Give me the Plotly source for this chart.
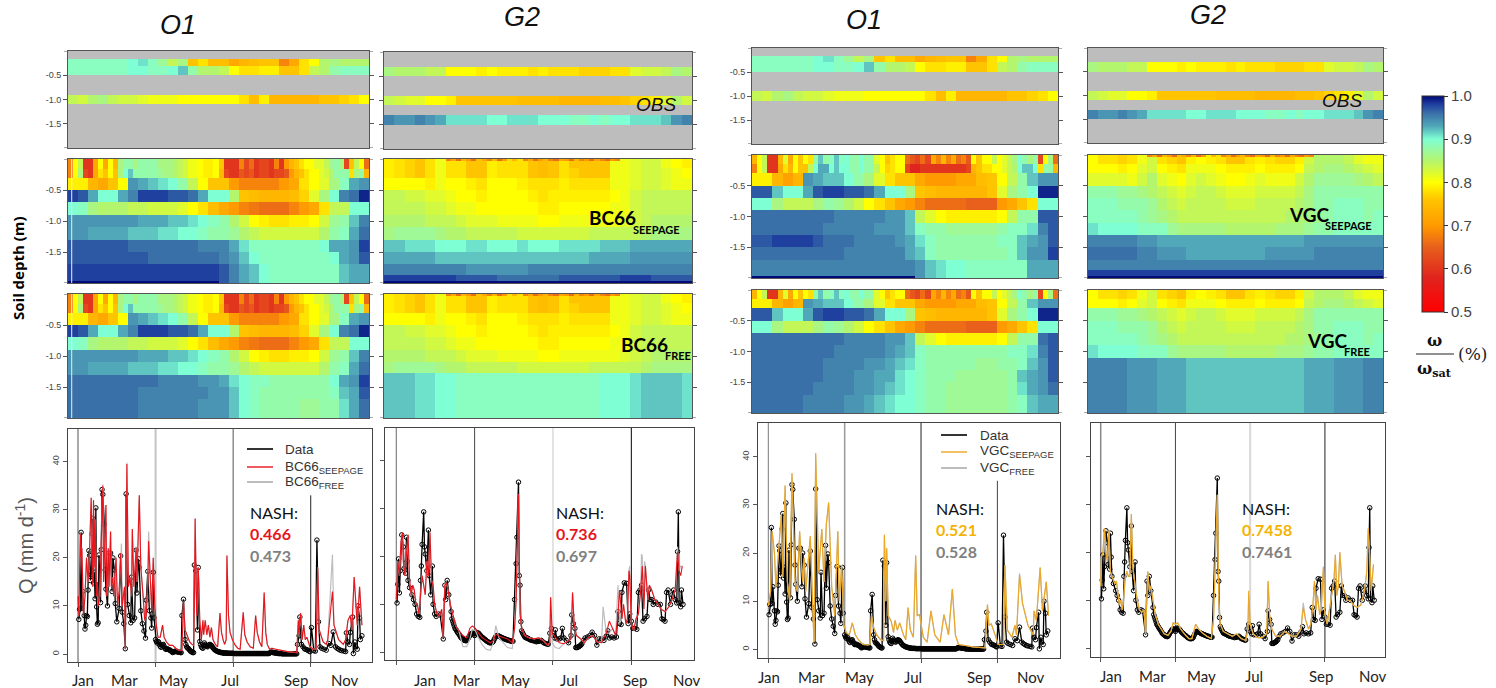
import numpy as np
import plotly.graph_objects as go

W, H = 1496, 688

# ---------- soil saturation tables (percent of saturation), 30 time columns over the year ----------
O1_OBS_R1 = [89,89,89,89,89,89,90,91,89,87,84,86,76,78,75,75,72,74,75,76,76,68,72,78,80,85,86,85,85,85]
O1_OBS_R2 = [89,89,89,89,89,89,90,90,89,89,90,92,88,85,85,84,80,78,78,79,79,76,76,78,84,85,88,89,89,89]
O1_OBS_R3 = [84,83,85,86,84,83,83,82,81,81,81,80,80,80,80,80,80,78,75,79,74,74,74,74,74,76,76,77,78,80]
G2_OBS_R1 = [86,85,85,85,84,84,80,80,80,79,80,79,79,79,78,79,78,78,78,77,77,77,78,78,82,83,83,84,86,85]
G2_OBS_R2 = [84,83,82,82,80,80,79,76,76,76,76,76,76,75,75,75,75,74,74,74,74,75,75,76,77,78,79,82,85,83]
G2_OBS_R3 = [95,94,94,95,94,93,91,91,91,91,90,90,91,91,91,90,90,90,89,89,90,89,90,90,91,91,91,92,94,95]

# finer 60-column top layers (0 to -0.15 and -0.15 to -0.3 m)
O1_BC_FINE_A = [68,80,84,60,60,72,80,72,80,74,86,88,88,86,88,88,88,88,86,86,86,85,84,83,81,81,80,79,79,80,
                76,60,60,60,68,62,66,60,62,62,60,68,60,70,74,76,78,80,80,82,82,84,87,88,86,62,76,84,80,66]
O1_BC_FINE_B = [68,80,86,62,60,72,78,76,80,76,86,90,92,88,88,88,88,88,87,86,86,85,84,83,81,81,80,79,79,80,
                74,62,60,60,64,62,64,60,62,62,60,62,62,64,70,74,76,78,80,80,82,83,85,88,88,88,78,86,88,74]
O1_VGC_FINE_A = [74,80,84,60,60,74,82,72,80,76,80,78,88,92,88,89,92,89,90,88,88,90,88,88,82,80,76,78,80,80,
                 66,64,62,66,62,72,68,74,68,72,66,68,64,80,76,80,80,84,80,82,84,86,90,88,86,88,62,80,86,66]
O1_VGC_FINE_B = [68,80,84,60,60,72,78,74,80,76,76,84,90,93,93,90,92,90,90,88,88,90,88,88,84,80,77,78,80,80,
                 62,58,58,60,60,60,60,60,60,60,60,60,62,74,76,78,78,80,80,82,84,85,90,92,92,90,78,88,88,74]
G2_FRINGE = [None,None,None,None,None,None,None,None,None,None,None,None,68,72,66,74,70,66,None,72,68,74,66,70,None,74,None,68,72,66,70,74,68,66,72,70,66,74,68,70,66,72,68,66,70,68,
             None,None,None,None,None,None,None,None,None,None,None,None,None,None]

O1_BC_TOP = [
 [70,60,66,72,78,88,86,89,89,88,86,82,80,78,74,63,60,58,60,60,60,68,74,76,78,82,85,72,78,66],
 [72,60,68,72,78,90,90,89,89,88,86,83,80,78,74,62,60,60,60,60,60,70,74,76,78,82,86,78,88,74],
 [79,79,74,72,76,80,94,93,92,91,90,88,84,80,76,76,70,68,68,68,68,70,72,78,80,82,86,89,93,94],
 [98,97,93,90,90,93,95,98,98,98,97,97,96,93,90,90,85,76,75,74,74,74,75,77,82,86,90,95,96,99],
 [90,89,86,85,85,85,84,84,83,83,83,82,80,78,75,72,70,68,67,66,66,66,68,70,72,78,84,84,90,90],
 [94,94,94,94,94,94,94,93,93,93,92,92,91,90,89,88,85,83,80,79,78,78,79,79,80,83,87,88,92,95],
 [94,94,93,93,93,93,92,92,92,91,91,90,90,89,88,88,87,85,84,83,83,83,83,83,83,85,88,89,93,96],
]
O1_BC_SEEP_DEEP = [
 [97,97,97,97,97,97,96,96,96,96,96,96,96,95,95,95,93,91,89,89,89,89,89,89,89,90,93,93,94,98],
 [97,97,97,97,97,97,97,97,96,96,96,96,96,96,96,95,94,92,90,89,89,89,89,89,89,89,90,93,94,97],
 [98,98,98,98,98,98,98,98,98,98,98,98,98,98,98,97,95,93,92,90,89,89,89,89,89,89,89,92,93,93],
 [100,100,100,100,100,100,100,100,100,100,100,100,100,100,100,97,95,93,92,90,89,89,89,89,89,89,89,92,93,93],
]
O1_BC_FREE_DEEP = [
 [96,96,96,96,96,96,96,96,96,95,95,95,95,94,94,93,91,90,89,89,88,88,88,88,88,88,90,93,94,98],
 [96,96,96,96,96,96,96,95,95,95,95,95,95,95,94,94,92,90,89,88,88,88,88,88,88,88,89,92,93,97],
 [96,96,96,96,96,96,96,95,95,95,95,95,95,94,94,94,92,90,89,88,88,88,88,87,87,88,88,91,93,96],
]
O1_VGC_TOP = [
 [70,60,74,76,74,84,90,90,89,88,86,84,80,78,70,62,56,58,60,60,60,60,74,76,78,82,86,72,80,68],
 [72,62,74,74,76,92,92,90,90,88,87,84,80,76,70,62,60,60,58,60,60,62,74,76,78,82,86,88,88,74],
 [79,79,74,71,74,94,93,92,92,90,88,86,82,78,76,76,72,70,70,70,72,72,75,76,80,84,88,92,94,94],
 [97,97,92,90,90,93,97,98,98,97,97,96,93,90,90,86,76,75,74,74,74,74,74,76,82,86,88,90,99,99],
 [90,90,86,84,84,84,86,88,87,85,83,80,78,76,72,70,68,66,66,66,66,65,65,65,70,72,76,78,90,90],
]
O1_VGC_SEEP_DEEP = [
 [96,96,96,96,96,96,96,96,95,95,95,95,95,94,94,92,84,82,80,79,79,79,79,79,80,84,88,88,97,97],
 [96,96,96,96,96,96,96,95,95,95,95,95,94,94,94,92,89,88,88,87,87,87,87,87,88,89,89,91,95,97],
 [97,97,98,98,98,98,97,96,96,96,95,95,95,95,94,93,91,89,88,88,88,88,88,88,89,89,92,93,94,97],
 [96,96,96,96,96,96,96,96,96,95,95,95,95,95,95,93,92,89,88,88,88,88,88,88,88,89,92,94,94,98],
 [95,95,95,95,95,95,95,95,95,95,95,95,95,95,95,95,94,92,91,90,90,89,89,89,89,89,89,93,93,93],
 [100,100,100,100,100,100,100,100,100,100,100,100,100,100,100,100,94,92,91,90,90,89,89,89,89,89,89,93,93,93],
]
O1_VGC_FREE_DEEP = [
 [96,96,96,96,96,96,96,96,96,95,95,95,95,94,94,92,84,82,80,79,79,79,79,79,80,84,88,88,96,97],
 [96,96,96,96,96,96,96,96,95,95,95,95,95,94,93,92,89,88,88,88,88,88,88,88,88,89,89,91,95,97],
 [96,96,96,96,96,96,96,95,95,95,95,94,94,93,92,91,89,88,88,88,88,88,87,87,88,88,89,92,94,97],
 [96,96,96,96,96,96,96,95,95,95,94,94,93,93,91,90,89,88,88,88,87,87,87,87,87,88,92,93,94,97],
 [96,96,96,96,96,96,95,95,95,95,94,94,93,92,91,90,89,88,88,87,87,87,87,87,87,88,91,93,94,96],
 [96,96,96,96,96,95,95,95,95,94,94,93,92,91,90,90,89,88,88,87,87,87,87,87,87,88,89,92,93,93],
]
G2_BC_TOP = [
 [79,78,77,76,78,81,78,78,76,76,79,78,78,78,76,75,76,78,76,76,76,76,81,81,82,83,83,81,80,79],
 [79,78,77,76,78,81,78,78,76,76,79,78,78,78,76,75,76,78,77,76,76,76,81,81,82,83,83,82,81,80],
 [80,80,80,80,79,81,80,80,79,78,80,80,80,79,78,78,78,79,78,78,78,78,81,81,82,83,83,82,81,81],
 [84,84,83,83,82,82,81,80,80,79,80,80,80,80,79,78,79,79,79,79,79,79,80,81,83,84,84,84,84,84],
 [84,84,84,84,83,83,82,81,81,80,80,80,80,80,80,79,79,80,80,80,80,80,81,81,83,84,84,84,84,84],
 [85,85,85,85,84,84,84,83,82,82,82,81,81,81,81,80,80,81,81,81,81,81,81,82,83,84,85,85,85,85],
 [86,87,87,87,87,86,85,85,84,84,84,84,84,83,83,83,83,83,83,83,84,84,84,84,84,85,86,86,86,86],
]
G2_BC_SEEP_DEEP = [
 [92,92,91,91,91,90,90,90,91,91,90,90,90,91,90,90,90,91,91,91,91,92,92,92,93,93,93,93,93,93],
 [93,93,93,93,93,92,92,92,92,92,92,92,92,92,92,92,92,92,92,92,93,93,93,93,94,94,94,94,94,94],
 [95,95,95,95,95,95,95,95,94,94,94,94,94,94,95,95,95,95,95,95,95,95,95,95,95,95,95,95,95,95],
 [98,98,98,98,98,98,98,97,97,97,97,96,96,96,96,96,96,97,97,97,97,97,97,98,98,98,97,97,97,97],
 [100,100,100,100,100,100,100,100,100,100,100,100,100,100,100,100,100,100,100,100,100,100,100,100,100,100,100,100,100,100],
]
G2_BC_FREE_DEEP = [
 [92,92,92,91,91,90,90,89,89,89,89,89,89,89,89,89,89,89,89,89,89,90,90,90,91,92,92,92,92,91],
]
G2_VGC_TOP = [
 [80,78,78,77,78,81,83,78,77,76,79,80,79,78,76,76,78,79,78,77,77,79,83,85,85,85,84,82,81,81],
 [80,80,80,79,80,82,83,80,79,78,81,81,81,80,79,79,79,80,79,79,79,80,84,85,86,86,85,84,83,82],
 [82,82,82,82,81,83,85,82,81,80,82,83,82,81,80,80,81,82,81,81,81,83,85,87,87,87,87,86,85,84],
 [88,88,88,87,87,86,85,84,83,82,83,84,84,83,82,82,82,83,83,83,83,84,86,88,88,88,88,88,88,88],
 [89,89,89,88,88,88,87,85,84,83,84,84,84,84,83,83,83,84,84,84,84,85,86,88,88,89,89,89,88,88],
 [89,89,89,89,89,88,87,86,85,84,84,84,84,84,84,84,84,84,84,84,85,85,86,87,88,89,89,89,88,89],
 [91,90,90,90,90,89,89,89,87,86,86,86,86,86,85,85,85,85,85,86,86,86,87,88,88,89,89,89,89,89],
]
G2_VGC_SEEP_DEEP = [
 [95,95,95,95,95,94,94,93,93,93,93,93,93,93,93,93,93,93,93,93,93,93,94,94,94,94,94,94,94,94],
 [96,96,96,96,96,95,95,94,94,94,93,93,93,93,93,93,93,93,94,94,94,94,94,95,95,95,95,95,95,95],
 [95,95,95,95,95,95,95,95,95,95,95,95,95,95,95,95,95,95,95,95,95,95,95,95,95,95,95,95,95,95],
 [98,98,98,98,98,98,98,98,98,98,98,98,98,98,98,98,98,98,98,98,98,98,98,98,98,98,98,98,98,98],
 [100,100,100,100,100,100,100,100,100,100,100,100,100,100,100,100,100,100,100,100,100,100,100,100,100,100,100,100,100,100],
]
G2_VGC_FREE_DEEP = [
 [95,95,95,95,94,94,94,93,93,93,92,92,92,92,92,92,92,92,92,92,92,92,93,93,93,94,94,94,95,95],
]

# ---------- discharge series: (day of year, Q in mm/d) ----------
O1_DATA = [(1,7.2),(2,9.3),(3,9.5),(4,25.3),(5,9.5),(6,13),(8,8),(9,5.2),(10,6),(11,8),(12,7.8),(13,13.3),(14,21.5),(15,20.5),(16,15.3),(17,16.5),(18,25),(19,28.2),(20,14.8),(21,17),(22,11.5),(23,30.4),(24,9.8),(25,6.2),(26,6.5),(27,20.6),(29,10.7),(30,21.7),(31,34.2),(32,33.2),(34,27),(35,17.5),(36,13.5),(38,10),(40,21),(42,21),(44,13),(45,20),(47,17.5),(48,10.5),(50,6.7),(53,9.5),(55,20.4),(57,8.7),(59,6.3),(61,1.1),(62,33.3),(64,10.3),(66,8),(68,6.5),(69,16),(71,7),(73,7.5),(75,21.6),(76,12.7),(78,19.8),(79,18),(81,9),(83,6.3),(85,4.8),(87,3.3),(88,11.2),(90,17.2),(92,9),(94,7.5),(95,5.4),(97,17),(98,7.5),(100,3),(101,2.6),(102,2.3),(103,2.6),(104,2.5),(105,2),(106,1.6),(107,1.4),(108,1.8),(109,1.9),(110,2),(111,1.6),(112,1.2),(113,1),(114,1),(115,1.1),(116,1),(117,.9),(118,.8),(119,.8),(120,.6),(121,.5),(122,.3),(123,.4),(124,.5),(125,.6),(126,.5),(127,.5),(128,.5),(129,.4),(130,.4),(131,.4),(132,.3),(133,.3),(134,8),(136,11.4),(138,3),(139,2),(140,1.5),(141,1.3),(142,1.2),(143,1),(144,.8),(145,.6),(146,.5),(147,.4),(148,.3),(149,.3),(150,18.5),(152,17.3),(154,5),(155,18),(157,2.6),(158,2),(159,1.5),(160,1.3),(161,1.2),(162,1.8),(163,2.3),(164,2),(165,1.8),(166,1.6),(167,1.5),(168,1.8),(169,1.9),(170,2),(171,1.9),(172,1.8),(173,1.5),(174,1.3),(175,1.1),(176,.9),(177,.8),(178,.7),(179,.6),(180,.5),(181,.5),(182,.4),(183,.4),(184,.3),(185,.3),(186,.3),(187,.2),(188,.2),(189,.2),(190,.2),(191,.2),(192,.2),(193,.15),(194,.15),(195,.15),(196,.15),(197,.15),(198,.15),(199,.15),(200,.15),(201,.1),(202,.1),(203,.1),(204,.1),(205,.1),(206,.1),(207,.1),(208,.1),(209,.1),(210,.1),(211,.1),(212,.1),(213,.1),(214,.1),(215,.1),(216,.1),(217,.1),(218,.1),(219,.1),(220,.1),(221,.1),(222,.1),(223,.1),(224,.1),(225,.1),(226,.1),(227,.1),(228,.1),(229,.1),(230,.1),(231,.1),(232,.1),(233,.1),(234,.1),(235,.1),(236,.1),(237,.1),(238,.1),(239,.1),(240,.1),(241,.1),(242,.1),(243,.1),(244,.1),(245,.1),(246,.1),(247,.2),(248,.3),(249,.4),(250,.4),(251,.3),(252,.3),(253,.3),(254,.2),(255,.2),(256,.2),(257,.2),(258,.1),(259,.1),(260,.1),(261,.1),(262,.1),(263,.05),(264,.05),(265,.05),(266,.05),(267,.05),(268,.05),(269,.05),(270,.05),(271,.05),(272,.05),(273,.05),(274,.05),(275,.05),(276,.05),(277,.05),(278,.05),(279,.05),(280,.05),(281,.05),(282,.05),(283,2),(285,3.8),(286,7.7),(288,2),(290,1.5),(292,1.1),(293,1),(295,.9),(296,.8),(298,.6),(299,.5),(301,5.5),(304,.7),(306,.6),(308,23.7),(310,6.7),(312,1.5),(314,1.2),(317,1),(320,.8),(323,2.2),(326,1.8),(329,4.6),(332,1.5),(334,1.2),(336,1),(338,.8),(340,.7),(343,.6),(345,.5),(346,4.4),(348,2.5),(350,2),(351,4.5),(354,7.7),(355,.1),(357,2.5),(358,1.5),(360,1),(361,10),(363,7.5),(364,3),(366,3.8)]

O1_BC_SEEP = [(0,12),(1,8),(3,25),(4,20),(5,22),(7,8),(9,12),(11,20),(13,15),(15,22),(17,32.5),(18,18),(19,14),(20,32),(21,18),(22,28),(24,12),(25,15),(26,10),(28,12),(32,35),(33,15),(36,31),(37,12),(39,22),(40,14),(42,25.5),(43,14),(45,16),(46,12),(48,18),(49,20),(51,10),(53,13),(55,21),(57,10),(60,14),(61,1),(63,39.5),(65,14),(67,16),(69,12),(70,26),(72,14),(75,22),(76,15),(79,33),(81,18),(84,12),(86,7),(88,8),(90,15),(91,23.5),(94,14),(95,9),(97,20),(99,10),(101,6),(103,3.5),(106,3.5),(109,6),(111,3.5),(114,2.5),(118,1.8),(122,1.8),(126,1.2),(130,.8),(134,.7),(135,8),(136,11),(138,5),(141,3.5),(144,2.5),(147,2),(149,1.8),(150,10),(151,28.2),(153,8),(155,18),(157,7),(159,3),(161,7),(162,4),(164,7),(166,4),(168,6),(170,3.5),(172,5.5),(174,3),(177,2),(180,1.5),(183,8.5),(185,4.5),(187,3),(189,2),(191,3),(192,20.5),(194,8),(196,4.5),(199,3),(202,2),(206,1.2),(209,1),(213,8.7),(215,4),(218,2.5),(222,1.5),(226,1.2),(229,8),(231,4.5),(234,2.5),(237,1.5),(240,12.8),(242,4.5),(244,2),(247,1),(250,1.2),(255,1),(262,.7),(270,.5),(282,.3),(284,7),(285,4),(287,8.5),(289,3),(291,6),(293,3),(295,3.5),(299,1.5),(303,1),(307,1),(309,18),(311,5),(316,2.5),(320,2),(322,3),(328,13),(330,6),(336,3),(342,2),(345,3),(348,7),(351,8),(353,5),(356,16),(358,10),(360,6),(363,14),(366,6)]
O1_BC_FREE_CHANGES = {32:35.3,56:23,55:19,63:39.8,91:25.5,328:20.7}

O1_VGC_SEEP = [(0,9),(3,12),(5,24.5),(8,20),(10,13),(14,22),(17,28),(19,15),(22,34),(25,14),(28,10),(31,36.5),(35,14),(38,12),(41,24.5),(45,14),(47,19),(49,12),(55,23.5),(59,5),(60,1.5),(62,40.7),(66,16),(70,25),(73,14),(76,26),(79,30.5),(83,13),(87,7),(91,24.5),(93,10),(96,17.5),(99,5),(102,3.5),(106,3),(110,5.5),(114,3),(118,2),(124,1),(130,.9),(133,1),(135,7),(138,4.5),(142,3),(147,2),(151,1.8),(152,23.8),(154,10),(155,21),(157,7),(161,5.8),(164,3.5),(166,6),(169,4),(172,5.5),(177,3),(180,2),(183,8.7),(186,4),(190,2.5),(193,19.5),(195,7),(198,7.2),(203,2.5),(208,1.5),(213,8),(218,3),(225,1.5),(230,7.2),(236,3),(241,12.5),(245,3),(249,1),(258,.8),(268,.5),(284,.3),(287,9.3),(289,5),(292,5.3),(297,3),(301,1),(308,1),(310,17.5),(313,4),(319,2.5),(323,5),(325,3),(329,15.5),(333,9.5),(340,5),(347,3),(348,8),(351,6),(356,17),(359,8),(364,14),(367,7)]
O1_VGC_FREE_CHANGES = {329:15.8,31:36.6}

G2_DATA = [(1,10.3),(2,14.2),(3,19.5),(4,12.4),(5,17),(7,24.5),(9,22),(10,17.5),(12,16.5),(13,24),(14,19),(15,15),(17,13.5),(20,12),(22,11),(24,10),(26,8),(28,7.5),(30,7.3),(31,15),(32,18),(33,22.5),(35,29.3),(36,22),(37,20.5),(39,17),(41,25.5),(42,16),(44,12),(46,18),(47,10),(49,8),(51,7.5),(54,8),(56,7.8),(60,2.8),(62,14),(63,11),(65,15),(67,12),(70,8.5),(71,7),(72,6.5),(73,6),(74,5.5),(75,5),(76,4.8),(77,4.5),(78,4.2),(79,4),(80,3.8),(81,3.5),(82,3.2),(83,3),(84,2.9),(85,2.8),(86,2.6),(87,2.5),(88,2.5),(89,2.4),(90,2.5),(91,2.7),(92,3),(93,3.3),(94,3.5),(95,3.8),(96,3.9),(97,4),(98,4),(99,3.8),(100,3.5),(101,3.9),(102,4.2),(103,4.1),(104,4),(105,4),(106,3.8),(107,3.6),(108,3.4),(109,3.2),(110,3.1),(111,3),(112,2.8),(113,2.7),(114,2.6),(115,2.4),(116,2.3),(117,2.2),(118,2.1),(119,2),(120,2),(121,2),(122,2),(123,2.1),(124,2.3),(125,2.7),(126,3),(127,3.3),(128,3.5),(129,3.5),(130,3.4),(131,3.4),(132,3.3),(133,3.2),(134,3.1),(135,3),(136,3),(137,2.9),(138,2.8),(139,2.8),(140,2.7),(141,2.6),(142,2.6),(143,2.5),(144,2.5),(145,2.4),(146,2.4),(147,2.3),(148,2.3),(149,2.3),(151,11),(153,18.5),(154,24),(156,35.5),(157,16),(158,14),(159,6.4),(160,4.5),(161,4.1),(162,3.8),(163,3.5),(164,3.2),(165,3.1),(166,3),(167,3),(168,2.9),(169,2.8),(170,2.7),(171,2.6),(172,2.6),(173,2.5),(175,2.4),(176,2.4),(178,2.3),(179,2.2),(181,2.3),(182,2.3),(184,2.4),(185,2.5),(187,2.2),(188,2),(190,1.9),(191,1.8),(193,1.7),(194,1.7),(196,4),(198,5),(200,3.5),(202,3),(203,4.7),(205,2.8),(208,2.8),(210,3),(212,5),(214,3),(217,2.5),(220,2),(223,3.5),(224,7.8),(226,6),(228,5),(229,1),(230,1),(231,1),(232,1.1),(233,1.2),(234,1.3),(235,1.4),(236,1.6),(237,1.8),(239,2.5),(241,3),(244,3.2),(247,3.5),(250,4.2),(253,3.5),(256,1.5),(259,2.8),(262,2.8),(265,2.5),(268,3.4),(270,4.5),(272,3),(275,3.2),(278,3),(281,3.2),(283,8.5),(285,6),(287,5.8),(288,12.5),(291,14.5),(294,14.4),(296,6),(298,8),(300,6.5),(302,5),(304,5),(307,4.8),(309,12.5),(311,13),(313,14),(315,6.5),(317,7),(320,7.5),(322,13),(324,11),(326,11),(328,10),(331,10.5),(334,10),(337,10),(339,7),(341,6.8),(343,6.5),(345,12.5),(347,13),(350,10),(352,12),(354,13),(356,11),(358,10.3),(359,21),(360,29.3),(361,10.3),(363,9.5),(364,13),(366,10)]

G2_BC_SEEP = [(0,11),(2,19),(4,16),(6,23),(8,25),(9,19),(11,16),(13,21),(15,24.5),(17,15),(19,12),(21,14),(23,13),(25,10),(27,10),(29,8),(31,12),(33,16),(35,14),(37,12),(39,19),(41,16),(43,25),(45,15),(47,14),(49,10),(52,8),(55,7.5),(58,9),(60,3),(62,14),(64,14.5),(66,13),(69,10),(72,8),(76,5.5),(80,4.5),(85,3.5),(90,3),(94,5),(97,5.5),(101,5),(105,4),(110,3),(115,2.5),(120,2),(124,2.5),(127,3.8),(131,3.4),(136,3.1),(142,2.8),(148,2),(151,5),(153,11),(155,24),(156,33),(158,8),(160,5),(164,3.5),(170,3),(176,2.8),(182,3),(188,2.4),(193,1.5),(196,2),(197,11.5),(199,4),(203,3),(208,2),(214,1.8),(220,2.5),(223,2.8),(225,12.5),(227,6),(230,3.5),(234,3),(240,2),(246,3.2),(251,3.5),(256,2.2),(262,2),(268,4),(272,6.5),(276,5),(280,3.5),(283,8),(285,13),(288,7),(290,10),(293,6),(295,7),(297,17),(298,16),(300,6),(303,4.5),(306,7),(309,8),(312,13),(314,18),(316,9),(318,18),(321,11),(323,14),(326,13),(330,11),(334,10),(338,9),(343,8.5),(348,9.5),(352,11),(356,13),(359,21),(361,17),(363,16),(365,18)]
G2_BC_FREE_CHANGES = {85:1.2,90:1.2,94:2.8,97:4.8,101:4.5,105:3,110:1.5,115:.6,120:.4,124:2,127:5.6,131:3,136:2,142:1,148:.8,155:23.5,199:2,203:1,208:.8,264:9.5,272:4,283:14,285:6,298:18,313:20.5,314:20,317:19,359:22,363:18}

G2_VGC_SEEP = [(0,13),(1,19),(3,20),(5,25),(7,20),(9,18),(11,24.5),(13,16),(15,15),(17,14),(19,13.5),(21,14),(23,11),(25,9),(27,10),(29,8),(31,11),(33,15),(35,16),(37,15),(39,15),(40,22),(41,28),(43,17),(45,14),(47,12),(49,10),(52,8),(55,7.5),(58,8),(60,3),(62,13),(63,16),(65,12),(67,13),(70,10),(73,7),(77,5),(81,4),(85,3),(90,2.7),(94,3.5),(97,5.3),(100,5),(103,5.3),(107,4),(112,3),(118,2),(122,2),(127,5),(131,4),(136,3.2),(142,2.5),(148,2),(151,6),(153,15),(155,24),(156,32),(158,10),(160,5),(164,3.5),(170,3),(176,2.5),(182,3),(188,2),(194,1.6),(197,4),(198,12),(200,5),(204,3),(210,2.2),(216,2.2),(222,3),(224,14),(226,7),(229,4),(234,2.5),(240,2.5),(246,3.5),(251,3),(256,2.5),(262,2.5),(268,4),(271,8.5),(274,6),(278,4),(281,5),(284,9),(286,14),(288,8),(290,11),(293,7),(295,8),(298,17),(300,7),(303,5),(306,8),(309,11),(312,14),(314,19.5),(316,11),(318,13),(320,20),(323,13),(326,12),(330,10),(334,10),(338,9),(343,8.5),(348,9),(353,12),(356,16),(358,25),(360,19),(362,12),(365,17.5)]
G2_VGC_FREE_CHANGES = {271:9.5,198:11}

MONTHS = ["Jan","Mar","May","Jul","Sep","Nov"]
Y_Q_TICKS = [0,10,20,30,40]
DEPTH_TICKS = [-0.5,-1.0,-1.5]
DEPTH_LABELS = ["-0.5","-1.0","-1.5"]
DEPTH_ENDS = [0,-2.0]
VLINE_DAYS = [0,100,200,300]

# depth-band edges
EDGES_O1_OBS = [0,-.16,-.3,-.5,-.9,-1.1,-2]
EDGES_G2_OBS = [0,-.3,-.5,-.9,-1.1,-1.3,-1.5,-2]
EDGES_FULL = [0,-.15,-.3,-.5,-.7,-.9,-1.1,-1.3,-1.5,-1.7,-1.97,-2]
EDGES_G2_FULL = [0,-.15,-.3,-.5,-.7,-.9,-1.1,-1.3,-1.5,-1.7,-1.87,-1.97,-2]
EDGES_O1_FREE = [0,-.15,-.3,-.5,-.7,-.9,-1.1,-1.3,-1.5,-1.7,-2]
EDGES_BC_G2_FREE = [0,-.15,-.3,-.5,-.7,-.9,-1.1,-1.28,-2]
EDGES_VGC_G2_FREE = [0,-.15,-.3,-.5,-.7,-.9,-1.1,-2]
EDGES_FINE_2 = [0,-.15,-.3]
EDGES_FINE_1 = [0,-.15]
EDGES_FRINGE = [0,-.03]

EMPTY = [None]*30
O1_OBS = [EMPTY,O1_OBS_R1,O1_OBS_R2,EMPTY,O1_OBS_R3,EMPTY]
G2_OBS = [EMPTY,G2_OBS_R1,EMPTY,G2_OBS_R2,EMPTY,G2_OBS_R3,EMPTY]

COLORSCALE = [[0,"#ff0000"],[.16,"#e0241e"],[.30,"#e8601c"],[.40,"#ff9a00"],[.52,"#ffc400"],[.60,"#ffff00"],
              [.70,"#b4f56e"],[.80,"#7fffd4"],[.86,"#50a8b8"],[.92,"#3a70a8"],[.96,"#2040a0"],[1,"#000a78"]]

fig = go.Figure()
layout = dict(shapes=[], annotations=[])
axis_no = [0]

def fx(p): return p/W
def fy(p): return 1-p/H

def add_axes(x0,x1,y0,y1,xr,yr):
    axis_no[0]+=1
    n=axis_no[0]; s="" if n==1 else str(n)
    layout["xaxis"+s]=dict(domain=[fx(x0),fx(x1)],range=xr,anchor="y"+s,showgrid=False,zeroline=False,
        showline=True,mirror=True,linecolor="#555555",linewidth=1,fixedrange=True)
    layout["yaxis"+s]=dict(domain=[fy(y1),fy(y0)],range=yr,anchor="x"+s,showgrid=False,zeroline=False,
        showline=True,mirror=True,linecolor="#555555",linewidth=1,fixedrange=True)
    return "x"+s,"y"+s,"xaxis"+s,"yaxis"+s

def heatmap(z,edges,n,xa,ya):
    fig.add_trace(go.Heatmap(x=np.linspace(0,365,n+1),y=edges,z=(np.array(z,dtype=float)/100).tolist(),
        coloraxis="coloraxis",xaxis=xa,yaxis=ya,hoverongaps=False))

def heat(x0,x1,y0,y1,z,edges,labels=False,gray=False,white_line=False,fine=None,fine_edges=None,fringe=False):
    xa,ya,xk,yk=add_axes(x0,x1,y0,y1,[0,365],[-2,0])
    layout[xk].update(showticklabels=False,ticks="")
    layout[yk].update(tickmode="array",tickvals=DEPTH_TICKS,ticktext=DEPTH_LABELS,ticks="outside",ticklen=4,
        tickcolor="#555555",mirror="ticks",showticklabels=labels,tickfont=dict(family="Liberation Sans",size=9,color="#444444"))
    for d in DEPTH_ENDS:
        for a,b in [(x0-4,x0),(x1,x1+4)]:
            layout["shapes"].append(dict(type="line",xref="paper",yref=ya,x0=fx(a),x1=fx(b),y0=d,y1=d,
                line=dict(color="#555555",width=1)))
    if gray:
        layout["shapes"].append(dict(type="rect",xref=xa+" domain",yref=ya+" domain",x0=0,x1=1,y0=0,y1=1,
            fillcolor="#bdbdbd",line=dict(width=0),layer="below"))
    heatmap(z,edges,30,xa,ya)
    if fine: heatmap(fine,fine_edges,60,xa,ya)
    if fringe: heatmap([G2_FRINGE],EDGES_FRINGE,60,xa,ya)
    if white_line:
        layout["shapes"].append(dict(type="line",xref=xa,yref=ya+" domain",x0=4.5,x1=4.5,y0=0,y1=1,
            line=dict(color="#e8eef0",width=1)))

def pairs(p): return [a for a,_ in p],[b for _,b in p]
def changed(base,ch):
    d=dict(base); d.update(ch); return sorted(d.items())

def qpanel(x0,x1,y0,y1,xr,yr,data,seep,free,color,labels,vcolors,vwidths,vtops):
    xa,ya,xk,yk=add_axes(x0,x1,y0,y1,xr,yr)
    layout[xk].update(tickmode="array",tickvals=VLINE_DAYS,ticks="outside",ticklen=4,tickcolor="#555555",
        showticklabels=False,mirror=True,linecolor="#444444")
    layout[yk].update(tickmode="array",tickvals=Y_Q_TICKS,ticks="outside",ticklen=4,tickcolor="#555555",
        showticklabels=labels,tickangle=-90,linecolor="#444444",tickfont=dict(family="Liberation Sans",size=9,color="#444444"))
    for d,c,wd,top in zip(VLINE_DAYS,vcolors,vwidths,vtops):
        layout["shapes"].append(dict(type="line",xref=xa,yref=ya,x0=d,x1=d,y0=yr[0],y1=top,line=dict(color=c,width=wd),layer="below"))
    xs,ys=pairs(data)
    fig.add_trace(go.Scatter(x=xs,y=ys,mode="lines+markers",line=dict(color="#000000",width=1.3),
        marker=dict(symbol="circle-open",size=4.5,color="#000000",line=dict(width=1,color="#000000")),
        showlegend=False,xaxis=xa,yaxis=ya))
    xs,ys=pairs(free)
    fig.add_trace(go.Scatter(x=xs,y=ys,mode="lines",line=dict(color="#bdbdbd",width=1.2),showlegend=False,xaxis=xa,yaxis=ya))
    xs,ys=pairs(seep)
    fig.add_trace(go.Scatter(x=xs,y=ys,mode="lines",line=dict(color=color,width=1.1),showlegend=False,xaxis=xa,yaxis=ya))

def note(x,y,text,size=14,color="#000000",family="Liberation Sans",anchor="left",bold=False,italic=False,angle=0):
    if bold: text="<b>"+text+"</b>"
    if italic: text="<i>"+text+"</i>"
    layout["annotations"].append(dict(x=fx(x),y=fy(y),xref="paper",yref="paper",text=text,showarrow=False,
        xanchor=anchor,yanchor="middle",textangle=angle,font=dict(family=family,size=size,color=color),borderpad=0))

def legend_key(x0,x1,y,text,tx,color,width):
    layout["shapes"].append(dict(type="line",xref="paper",yref="paper",x0=fx(x0),x1=fx(x1),y0=fy(y),y1=fy(y),
        line=dict(color=color,width=width)))
    note(tx,y,text,size=13.5,color="#333333")

# ---------- soil panels ----------
heat(68,369,51,148,O1_OBS,EDGES_O1_OBS,labels=True,gray=True)
heat(68,369,159,283,O1_BC_TOP+O1_BC_SEEP_DEEP,EDGES_FULL,labels=True,white_line=True,fine=[O1_BC_FINE_A,O1_BC_FINE_B],fine_edges=EDGES_FINE_2)
heat(68,369,294,418,O1_BC_TOP+O1_BC_FREE_DEEP,EDGES_O1_FREE,labels=True,white_line=True,fine=[O1_BC_FINE_A,O1_BC_FINE_B],fine_edges=EDGES_FINE_2)
heat(384,692,52,149,G2_OBS,EDGES_G2_OBS,gray=True)
heat(384,692,159,283,G2_BC_TOP+G2_BC_SEEP_DEEP,EDGES_G2_FULL,fringe=True)
heat(384,692,294,418,G2_BC_TOP+G2_BC_FREE_DEEP,EDGES_BC_G2_FREE,fringe=True)
heat(752,1058,48,144,O1_OBS,EDGES_O1_OBS,labels=True,gray=True)
heat(752,1058,155,278,O1_VGC_TOP+O1_VGC_SEEP_DEEP,EDGES_FULL,labels=True,fine=[O1_VGC_FINE_A,O1_VGC_FINE_B],fine_edges=EDGES_FINE_2)
heat(752,1058,290,413,[O1_VGC_TOP[0],O1_VGC_TOP[2],O1_VGC_TOP[3],O1_VGC_TOP[4]]+O1_VGC_FREE_DEEP,EDGES_O1_FREE,labels=True,fine=[O1_VGC_FINE_A],fine_edges=EDGES_FINE_1)
heat(1088,1383,48,143,G2_OBS,EDGES_G2_OBS,gray=True)
heat(1088,1383,155,278,G2_VGC_TOP+G2_VGC_SEEP_DEEP,EDGES_G2_FULL,fringe=True)
heat(1088,1383,290,413,[G2_VGC_TOP[0],G2_VGC_TOP[1],G2_VGC_TOP[3],G2_VGC_TOP[4],G2_VGC_TOP[5],G2_VGC_TOP[6]]+G2_VGC_FREE_DEEP,EDGES_VGC_G2_FREE)

# ---------- discharge panels ----------
RED,ORANGE="#e8141c","#eda723"
qpanel(68,372,429,662,[-12.9,379],[-1.66,46.8],O1_DATA,O1_BC_SEEP,changed(O1_BC_SEEP,O1_BC_FREE_CHANGES),RED,True,
       ["#555555","#c4c4c4","#555555","#222222"],[1,2,1,1],[46.8,46.8,46.8,33])
qpanel(385.3,694,428,660,[-14,380],[-1.6,46.8],G2_DATA,G2_BC_SEEP,changed(G2_BC_SEEP,G2_BC_FREE_CHANGES),RED,False,
       ["#666666","#444444","#c8c8c8","#000000"],[1,1,1,1],[46.8]*4)
qpanel(757.7,1060,423,658,[-13.9,382],[-1.8,47],O1_DATA,O1_VGC_SEEP,changed(O1_VGC_SEEP,O1_VGC_FREE_CHANGES),ORANGE,True,
       ["#777777","#999999","#222222","#444444"],[1,1.5,1,1],[47,47,47,35])
qpanel(1090.7,1384.7,423,657.3,[-13.4,380],[-1.9,47],G2_DATA,G2_VGC_SEEP,changed(G2_VGC_SEEP,G2_VGC_FREE_CHANGES),ORANGE,False,
       ["#888888","#444444","#d8d8d8","#222222"],[1.5,1,2,1],[47]*4)

legend_key(247,273,449,"Data",284,"#000000",1.6)
legend_key(247,273,467,"BC66<sub>SEEPAGE</sub>",284,RED,1.4)
legend_key(247,273,482,"BC66<sub>FREE</sub>",284,"#bdbdbd",2)
legend_key(941,967,435,"Data",979,"#000000",1.6)
legend_key(941,967,452,"VGC<sub>SEEPAGE</sub>",979,ORANGE,1.4)
legend_key(941,967,468,"VGC<sub>FREE</sub>",979,"#bdbdbd",2)

# ---------- texts ----------
TITLE_FONT="Liberation Sans"
for x,y,t in [(178,25,"O1"),(522,17,"G2"),(864,20,"O1"),(1208,15,"G2")]:
    note(x,y,t,size=27,color="#111111",family=TITLE_FONT,anchor="center",italic=True)
for x,y in [(656,105),(1342,100)]:
    note(x,y,"OBS",size=19,color="#111111",anchor="center",italic=True)
LB="Lato"
for x,y,t in [(588,217,"BC66"),(620,344,"BC66"),(1288,214,"VGC"),(1306,340,"VGC")]:
    note(x,y,t,size=19,family=LB,bold=True)
for x,y,t in [(632,229,"SEEPAGE"),(664,355,"FREE"),(1324,225,"SEEPAGE"),(1343,351,"FREE")]:
    note(x,y,t,size=11,family=LB,bold=True)
note(18,268,"Soil depth (m)",size=15,family="Open Sans",anchor="center",bold=True,angle=-90)
note(24,546,"Q (mm d<sup>-1</sup>)",size=20,color="#555555",anchor="center",angle=-90)

NASH = [(249,512,"0.466","0.473",RED),(555,512,"0.736","0.697",RED),
        (935,508,"0.521","0.528","#f5b301"),(1241,508,"0.7458","0.7461","#f5b301")]
for x,y,a,b,c in NASH:
    note(x,y,"NASH:",size=16,family=LB,color="#111111")
    note(x,y+21,a,size=16,family=LB,color=c,bold=True)
    note(x,y+43,b,size=16,family=LB,color="#808080",bold=True)

MONTH_POS = [([83,124,173,230,296,345],680),([425,466,515,569,635,687],680),
             ([769,811,859,913,979,1031],677),([1111,1152,1201,1254,1321,1373],676)]
for xs,y in MONTH_POS:
    for x,m in zip(xs,MONTHS):
        note(x,y,m,size=15,family=LB,color="#222222",anchor="center")

note(1434,340,"ω",size=16,family="DejaVu Serif",anchor="center",bold=True,color="#111111")
note(1434,370,"ω<sub>sat</sub>",size=16,family="DejaVu Serif",anchor="center",bold=True,color="#111111")
note(1472,354,"(%)",size=17,family="DejaVu Serif",anchor="center",color="#222222")
layout["shapes"].append(dict(type="line",xref="paper",yref="paper",x0=fx(1416),x1=fx(1454),y0=fy(354),y1=fy(354),line=dict(color="#222222",width=1)))

layout.update(
    width=W,height=H,margin=dict(l=0,r=0,t=0,b=0),autosize=False,showlegend=False,
    paper_bgcolor="#ffffff",plot_bgcolor="#ffffff",
    coloraxis=dict(cmin=.5,cmax=1,colorscale=COLORSCALE,colorbar=dict(
        x=fx(1422),xanchor="left",thickness=22,thicknessmode="pixels",len=216/H,lenmode="fraction",
        y=fy(204),yanchor="middle",ypad=0,xpad=0,tickmode="array",tickvals=[.5,.6,.7,.8,.9,1.0],
        ticktext=["0.5","0.6","0.7","0.8","0.9","1.0"],ticks="outside",ticklen=4,tickcolor="#333333",
        outlinecolor="#333333",outlinewidth=1,tickfont=dict(family="Liberation Sans",size=15,color="#444444"))),
)
fig.update_layout(**layout)
fig.write_html("out.html",config={"displayModeBar":False},post_script="document.body.style.margin='0';")
